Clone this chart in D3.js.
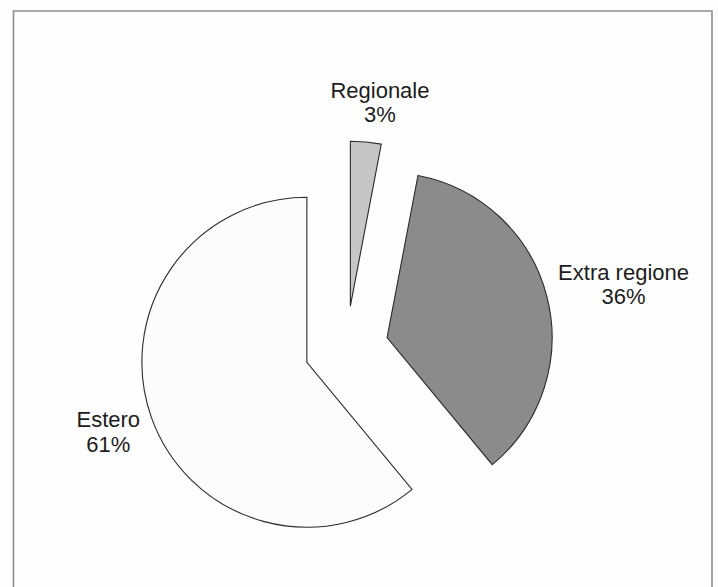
<!DOCTYPE html>
<html>
<head>
<meta charset="utf-8">
<script src="https://cdn.jsdelivr.net/npm/d3@7"></script>
<style>
  html, body { margin: 0; padding: 0; background: #fefefe; }
  svg { display: block; }
  text { font-family: "Liberation Sans", Arial, Helvetica, sans-serif; fill: #1c1c1c; }
</style>
</head>
<body>
<svg id="chart" width="718" height="587"></svg>
<script>
// Ripartizione per provenienza
const categories = ["Regionale", "Extra regione", "Estero"];
const values = [3, 36, 61];
const percentLabels = ["3%", "36%", "61%"];
const fills = ["#c6c6c6", "#8b8b8b", "#fcfcfc"];

const W = 718, H = 587;
const cx = 346.4, cy = 348, radius = 165, explode = 42;

const svg = d3.select("#chart");

// cornice della figura (aperta in basso)
svg.append("path")
  .attr("d", `M13.5,${H + 2} V11 H712 V${H + 2}`)
  .attr("fill", "none")
  .attr("stroke", "#8f8f8f")
  .attr("stroke-width", 1.6);

const pie = d3.pie().sort(null).value(d => d)(values);
const arc = d3.arc().innerRadius(0).outerRadius(radius);

const g = svg.append("g").attr("transform", `translate(${cx},${cy})`);

function polar(angle, r) {
  return [Math.sin(angle) * r, -Math.cos(angle) * r];
}

g.selectAll("path.slice")
  .data(pie)
  .join("path")
  .attr("class", "slice")
  .attr("d", arc)
  .attr("transform", d => {
    const [dx, dy] = polar((d.startAngle + d.endAngle) / 2, explode);
    return `translate(${dx},${dy})`;
  })
  .attr("fill", (d, i) => fills[i])
  .attr("stroke", "#2a2a2a")
  .attr("stroke-width", 1.1)
  .attr("stroke-linejoin", "miter");

// etichette: distanza dal centro lungo la bisettrice e piccolo spostamento
const labelDist = [250, 282, 252];
const labelNudge = [[10, 3.5], [4, 7], [-1, -1]];

const labels = g.selectAll("text.lbl")
  .data(pie)
  .join("text")
  .attr("class", "lbl")
  .attr("text-anchor", "middle")
  .attr("font-size", 22)
  .attr("transform", (d, i) => {
    const [x, y] = polar((d.startAngle + d.endAngle) / 2, labelDist[i]);
    return `translate(${x + labelNudge[i][0]},${y + labelNudge[i][1]})`;
  });

labels.append("tspan")
  .attr("x", 0)
  .attr("y", -5)
  .text((d, i) => categories[i]);
labels.append("tspan")
  .attr("x", 0)
  .attr("y", 19.5)
  .text((d, i) => percentLabels[i]);
</script>
</body>
</html>
